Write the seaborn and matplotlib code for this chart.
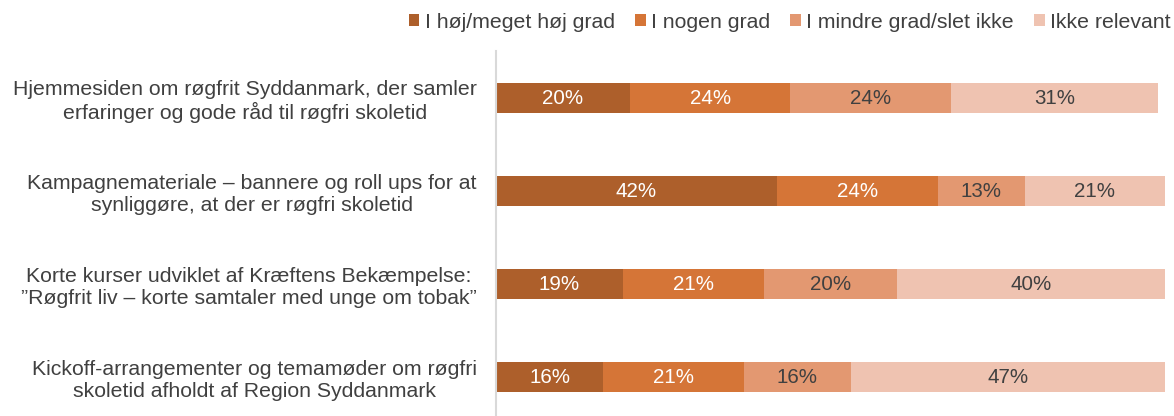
import numpy as np
import pandas as pd
import matplotlib
matplotlib.use("Agg")
import matplotlib.pyplot as plt
from matplotlib.patches import Patch
import seaborn as sns

# data (percent)
categories = [
    "Hjemmesiden om røgfrit Syddanmark, der samler\nerfaringer og gode råd til røgfri skoletid",
    "Kampagnemateriale – bannere og roll ups for at\nsynliggøre, at der er røgfri skoletid",
    "Korte kurser udviklet af Kræftens Bekæmpelse:\n”Røgfrit liv – korte samtaler med unge om tobak”",
    "Kickoff-arrangementer og temamøder om røgfri\nskoletid afholdt af Region Syddanmark",
]
series_names = ["I høj/meget høj grad", "I nogen grad", "I mindre grad/slet ikke", "Ikke relevant"]
hoj = [20, 42, 19, 16]
nogen = [24, 24, 21, 21]
mindre = [24, 13, 20, 16]
ikke = [31, 21, 40, 47]

colors = ["#AD5F2B", "#D57537", "#E39871", "#EFC3B1"]
label_colors = ["white", "white", "#404040", "#404040"]

sns.set_theme(style="white")
plt.rcParams["font.family"] = ["Liberation Sans", "DejaVu Sans"]

df = pd.DataFrame({"cat": categories, series_names[0]: hoj, series_names[1]: nogen,
                   series_names[2]: mindre, series_names[3]: ikke})
vals = df[series_names].to_numpy(dtype=float)
cum = vals.cumsum(axis=1)

fig = plt.figure(figsize=(11.74, 4.16), dpi=100)
ax = fig.add_axes([496 / 1174, 0.0, (1165 - 496) / 1174, 1 - 51.5 / 416])

# stacked bars: draw cumulative totals from the largest down
for j in range(len(series_names) - 1, -1, -1):
    sns.barplot(x=cum[:, j], y=df["cat"], orient="h", color=colors[j],
                width=0.32, saturation=1, linewidth=0, ax=ax)

for i in range(len(categories)):
    for j in range(len(series_names)):
        center = cum[i, j] - vals[i, j] / 2
        ax.text(center, i, f"{int(vals[i, j])}%", ha="center", va="center",
                color=label_colors[j], fontsize=14.8)

ax.set_xlim(0, 100)
ax.set_ylim(3.419, -0.5)
ax.set_xlabel("")
ax.set_ylabel("")
ax.set_xticks([])
ax.tick_params(axis="y", length=0, pad=14)
for lbl in ax.get_yticklabels():
    lbl.set_multialignment("center")
    lbl.set_fontsize(15.3)
    lbl.set_color("#404040")

for s in ["top", "right", "bottom"]:
    ax.spines[s].set_visible(False)
ax.spines["left"].set_color("#D9D9D9")
ax.spines["left"].set_linewidth(1.5)

handles = [Patch(facecolor=c, edgecolor="none") for c in colors]
fig.legend(handles, series_names, loc="center right", bbox_to_anchor=(0.997, 1 - 22 / 416),
           ncol=4, frameon=False, fontsize=15.3, handlelength=0.5, handleheight=0.5,
           handletextpad=0.25, columnspacing=0.95, borderpad=0, borderaxespad=0,
           labelcolor="#404040")

fig.savefig("out.png", dpi=100)
